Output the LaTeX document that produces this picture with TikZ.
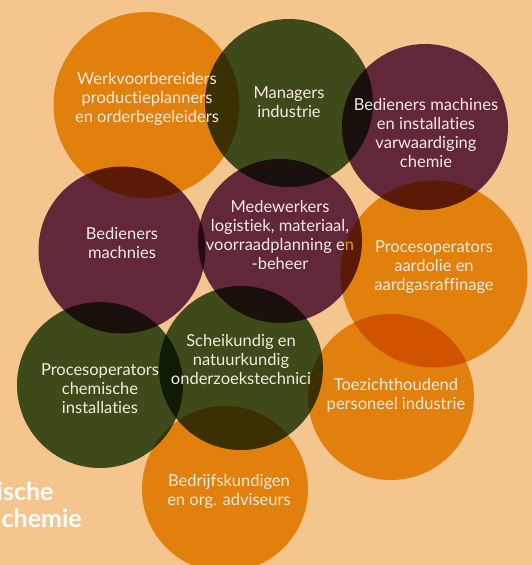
\documentclass[tikz,border=0pt]{standalone}
\usepackage{fontspec}
\setmainfont{Lato}[Ligatures=NoCommon]
\usepackage{tikz}
\usetikzlibrary{positioning}

\definecolor{bgpeach}{RGB}{245,197,142}
\definecolor{orangeb}{RGB}{235,166,25}
\definecolor{greenb}{RGB}{66,96,50}
\definecolor{maroonb}{RGB}{103,52,104}
\definecolor{txtcream}{RGB}{244,234,222}

\tikzset{
  bubble/.style={circle, inner sep=0pt, draw=none},
  lbl/.style={align=center, text=txtcream, font=\fontsize{16.5}{19}\selectfont},
  sidelbl/.style={anchor=west, align=left, text=white, inner sep=0pt, font=\bfseries\fontsize{25}{29}\selectfont}
}

\begin{document}
\begin{tikzpicture}[x=1pt, y=-1pt]
      \useasboundingbox[fill=bgpeach] (0,0) rectangle (532,565);
      % circles, first group
      \begin{scope}[blend mode=multiply]
           \node[bubble, fill=orangeb, minimum size=186pt](werk)  at (146.5,105) {};
           \node[bubble, fill=greenb, minimum size=168pt](managers)  at (289,103) {};
           \node[bubble, fill=maroonb, minimum size=166pt](bedchem)  at (425,127) {};
           \node[bubble, fill=maroonb, minimum size=167pt](bedmach)  at (122,250) {};
           \node[bubble, fill=maroonb, minimum size=164pt](medew)  at (280,241) {};
      \end{scope}
      \node[lbl](medewtxt) at (280,235) {Medewerkers\\logistiek, materiaal,\\voorraadplanning en\\-beheer};
      % circles, second group
      \begin{scope}[blend mode=multiply]
           \node[bubble, fill=orangeb, minimum size=187pt](procraf)  at (434,274) {};
           \node[bubble, fill=greenb, minimum size=166pt](procchem)  at (100,385) {};
           \node[bubble, fill=greenb, minimum size=164pt](scheik)  at (241,368) {};
           \node[bubble, fill=orangeb, minimum size=166pt](toez)  at (391,397) {};
           \node[bubble, fill=orangeb, minimum size=166pt](bedrijf)  at (225,489) {};
      \end{scope}
      % labels
      \node[lbl](werktxt) at (147,99) {Werkvoorbereiders\\productieplanners\\en orderbegeleiders};
      \node[lbl](managerstxt) at (289,102) {Managers\\industrie};
      \node[lbl](bedchemtxt) at (426,133) {Bedieners machines\\en installaties\\varwaardiging\\chemie};
      \node[lbl](bedmachtxt) at (122,243) {Bedieners\\machnies};
      \node[lbl](procraftxt) at (434,267) {Procesoperators\\aardolie en\\aardgasraffinage};
      \node[lbl](procchemtxt) at (100,389) {Procesoperators\\chemische\\installaties};
      \node[lbl](scheiktxt) at (241,359) {Scheikundig en\\natuurkundig\\onderzoekstechnici};
      \node[lbl](toeztxt) at (396,395) {Toezichthoudend\\personeel industrie};
      \node[lbl](bedrijftxt) at (229,491) {Bedrijfskundigen\\en org. adviseurs};
      \node[sidelbl](sidetxt) at (-3.5,505) {ische\\[-2pt]\hspace*{5pt}chemie};
\end{tikzpicture}
\end{document}
